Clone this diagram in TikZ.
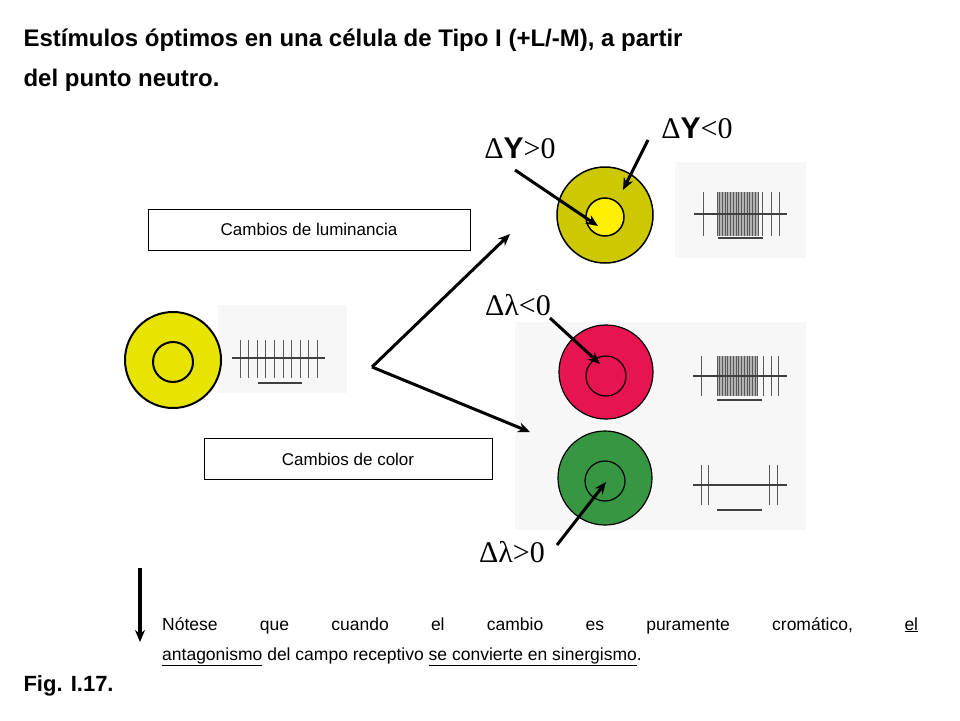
\documentclass[tikz,border=0pt]{standalone}
\usepackage{fontspec}
\setmainfont{Liberation Sans}
\newfontfamily\serifx{Liberation Serif}
\usetikzlibrary{arrows.meta}
\begin{document}
\begin{tikzpicture}[x=1pt,y=-1pt,
  lab/.style={draw,thin,minimum height=41pt,font=\fontsize{17}{20}\selectfont,inner sep=0pt},
  arr/.style={line width=3pt,-{Stealth[length=12pt,width=10pt]}},
  spk/.style={gray!70!black,line width=0.8pt},
  axisl/.style={black!75,line width=2pt},
  panel/.style={fill=black!3,draw=none},
  delta/.style={font=\fontsize{30}{32}\selectfont,inner sep=0pt}]
\useasboundingbox (0,0) rectangle (960,720);
\node[anchor=west,font=\bfseries\fontsize{24}{28}\selectfont] (t1) at (20,40) {Estímulos óptimos en una célula de Tipo I (+L/-M), a partir};
\node[anchor=west,font=\bfseries\fontsize{24}{28}\selectfont] (t2) at (20,80) {del punto neutro.};
% left
\fill[panel] (218,305) rectangle (347,393);
\node[circle,draw,line width=2pt,fill={rgb,255:red,230;green,228;blue,0},minimum size=96pt] (c0) at (173,360) {};
\node[circle,draw,line width=2pt,minimum size=40pt] (c0i) at (173,362) {};
\foreach \x in {240,248.6,...,320} \draw[spk] (\x,340)--(\x,378);
\draw[axisl] (232,358)--(325,358);
\draw[axisl] (258,383)--(302,383);
% top
\fill[panel] (675,162) rectangle (806,258);
\node[circle,draw,line width=1.5pt,fill={rgb,255:red,205;green,200;blue,0},minimum size=96pt] (c1) at (605,215) {};
\node[circle,draw,line width=1.5pt,fill={rgb,255:red,255;green,240;blue,0},minimum size=38pt] (c1i) at (605,217) {};
\fill[gray!60] (717,192) rectangle (758,236);
\foreach \x in {703,717,719,722,725,727,730,733,736,738,741,744,747,749,752,755,758,762,771,779} \draw[spk] (\x,192)--(\x,236);
\draw[axisl] (694,214)--(787,214);
\draw[axisl] (718,238)--(763,238);
% red/green panel
\fill[panel] (515,322) rectangle (806,530);
\node[circle,draw,line width=1.2pt,fill={rgb,255:red,232;green,20;blue,80},minimum size=94pt] (c2) at (606,372) {};
\node[circle,draw,line width=1.2pt,minimum size=40pt] (c2i) at (606,376) {};
\node[circle,draw,line width=1.2pt,fill={rgb,255:red,55;green,150;blue,65},minimum size=94pt] (c3) at (605,478) {};
\node[circle,draw,line width=1.2pt,minimum size=40pt] (c3i) at (605,481) {};
\fill[gray!60] (717,356) rectangle (757,396);
\foreach \x in {701,717,719,722,725,727,730,733,736,738,741,744,747,749,752,755,757,763,771,778} \draw[spk] (\x,356)--(\x,396);
\draw[axisl] (693,376)--(787,376);
\draw[axisl] (717,400)--(762,400);
\foreach \x in {701,708,769,777} \draw[spk] (\x,465)--(\x,505);
\draw[axisl] (693,485)--(787,485);
\draw[axisl] (717,510)--(762,510);
% branching arrows
\coordinate (o) at (372,367);
\coordinate (e1) at (510,234);
\coordinate (e2) at (530,432);
\draw[arr] (o)--(e1);
\draw[arr] (o)--(e2);
\node[lab,minimum width=322pt] (lum) at (309,229.5) {Cambios de luminancia};
\node[lab,minimum width=288pt] (col) at (348,459) {Cambios de color};
% deltas
\node[delta] (dy1) at (520,148) {{\serifx Δ}\textbf{Y}{\serifx >0}};
\node[delta] (dy2) at (697,128) {{\serifx Δ}\textbf{Y}{\serifx <0}};
\node[delta] (dl1) at (518,305) {\serifx Δλ<0};
\node[delta] (dl2) at (512,552) {\serifx Δλ>0};
\coordinate (a1) at (598,226);
\coordinate (a2) at (623,190);
\coordinate (a3) at (600,364);
\coordinate (a4) at (606,482);
\draw[arr] (515,170)--(a1);
\draw[arr] (648,140)--(a2);
\draw[arr] (550,318)--(a3);
\draw[arr] (557,545)--(a4);
% down arrow
\coordinate (d0) at (140,568);
\coordinate (d1) at (140,642);
\draw[arr,line width=4pt] (d0)--(d1);
\node[anchor=north west,align=left,inner sep=0pt,font=\fontsize{17.5}{30}\selectfont] (note) at (162,617)
{\makebox[756pt][s]{Nótese que cuando el cambio es puramente cromático, \underline{el}}\\
\underline{antagonismo} del campo receptivo \underline{se convierte en sinergismo}.};
\node[anchor=west,font=\bfseries\fontsize{22}{26}\selectfont] (fig) at (20,686) {Fig. I.17.};
\end{tikzpicture}
\end{document}
